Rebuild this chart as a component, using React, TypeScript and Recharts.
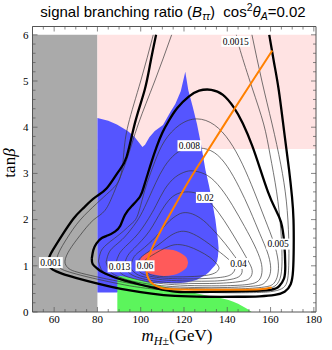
import React from "react";
import { ComposedChart, XAxis, YAxis, Area, Line, Scatter } from "recharts";

const W = 332;
const H = 350;
const FRAME = "#555";
const SERIF = "Liberation Serif, serif";

// axis ticks (major every 20 / every 1, minor every 5 / every 0.2)
const xTicks = [50, 55, 60, 65, 70, 75, 80, 85, 90, 95, 100, 105, 110, 115, 120, 125, 130, 135, 140, 145, 150, 155, 160, 165, 170, 175, 180];
const yTicks = [0, 0.2, 0.4, 0.6, 0.8, 1, 1.2, 1.4, 1.6, 1.8, 2, 2.2, 2.4, 2.6, 2.8, 3, 3.2, 3.4, 3.6, 3.8, 4, 4.2, 4.4, 4.6, 4.8, 5, 5.2, 5.4, 5.6, 5.8, 6];

// filled regions: [m_H, low, high]
const greyBand = [[50, 0, 6], [80, 0, 6]];
const pinkBand = [[80, 3.53, 6], [181, 3.53, 6]];
const blueBand = [
  [80, 0.42, 4.2], [85, 0.42, 4.14], [89, 0.42, 4.06], [94, 0.5, 3.92], [97, 0.55, 3.8], [99, 0.58, 3.68],
  [100.8, 0.6, 3.57], [102, 0.61, 3.62], [104, 0.62, 3.78], [106.5, 0.62, 3.92], [110.3, 0.63, 4.05],
  [113.7, 0.62, 4.33], [116, 0.62, 4.5], [118.5, 0.63, 4.78], [120.6, 0.64, 5.2], [122, 0.65, 4.8],
  [124, 0.67, 4.45], [126, 0.7, 4.07], [128, 0.75, 3.6], [129.9, 0.8, 3.08], [131.5, 0.86, 2.75],
  [133, 0.94, 2.4], [134.5, 1.02, 2.0], [135.3, 1.1, 1.7], [135.7, 1.2, 1.55], [136, 1.38, 1.38],
];
const greenBand = [
  [89.2, 0, 0.77], [90.5, 0, 0.78], [95, 0, 0.74], [100, 0, 0.68], [105, 0, 0.62], [110, 0, 0.56],
  [114.5, 0, 0.51], [120, 0, 0.45], [125, 0, 0.41], [129.3, 0, 0.37], [135, 0, 0.32], [140.6, 0, 0.26],
  [145, 0, 0.18], [148.3, 0, 0.09], [150.3, 0, 0.03], [151.3, 0, 0],
];
const redBand = [
  [99.5, 1.07, 1.07], [100, 0.98, 1.16], [101, 0.93, 1.21], [103, 0.86, 1.28], [106, 0.81, 1.33],
  [110.7, 0.78, 1.36], [115, 0.8, 1.34], [118, 0.85, 1.29], [120, 0.91, 1.23], [121.4, 0.98, 1.16],
  [121.9, 1.07, 1.07],
];

// thick curves
const thickOuter = [
  [107.1, 6.0], [104.5, 5.4], [101.8, 4.8], [97.5, 4.12], [93.5, 3.36], [89.7, 3.04], [84.3, 2.68],
  [78.9, 2.48], [73.5, 2.25], [68.9, 2.02], [63.5, 1.65], [59.5, 1.35], [57.3, 1.12], [58.3, 0.96],
  [61, 0.88], [64.2, 0.82], [70, 0.74], [79.7, 0.62], [87, 0.54], [95, 0.47], [105, 0.4], [115.8, 0.35],
  [130, 0.33], [145, 0.33], [155, 0.34], [162, 0.37], [166.5, 0.44], [169.3, 0.6], [170.4, 0.9],
  [170.7, 1.4], [170.6, 2.0], [169.9, 2.5], [168.5, 3.1], [166.3, 3.9], [163.8, 4.8], [161.6, 5.4], [159.4, 6.0],
];
const thickInner = [
  [77.4, 1.16], [78.1, 1.34], [79.5, 1.48], [82, 1.6], [85, 1.66], [88.1, 1.74], [90.5, 1.86], [92.7, 2.1],
  [96, 2.3], [99.7, 2.5], [101.5, 2.72], [103, 2.95], [105, 3.25], [107.4, 3.58], [110, 3.88], [113, 4.14],
  [117, 4.42], [122.2, 4.66], [127, 4.79], [132.6, 4.81], [138, 4.7], [143, 4.43], [147.2, 4.08],
  [151.5, 3.6], [155.3, 3.08], [158.8, 2.6], [162, 2.25], [164.8, 1.95], [166.3, 1.5], [166.8, 1.0],
  [166.2, 0.72], [164, 0.56], [160, 0.48], [150, 0.45], [140, 0.44], [125, 0.43], [115.8, 0.44],
  [107.4, 0.51], [100, 0.59], [95, 0.65], [90, 0.72], [85.8, 0.79], [82, 0.87], [79.7, 0.95], [77.8, 1.04], [77.4, 1.16],
];

// thin open contours
const thin1 = [
  [105.8, 6.0], [100, 5.0], [94.3, 4.07], [92.2, 3.45], [90.4, 2.9], [85.5, 2.6], [79.7, 2.35], [72, 1.99],
  [66, 1.6], [62.3, 1.3], [61.2, 1.1], [62.5, 0.96], [66, 0.88], [72, 0.8], [80, 0.71], [90, 0.61],
  [100, 0.53], [115, 0.46], [135, 0.42], [152, 0.42], [160, 0.44], [165, 0.5], [167.6, 0.65], [168.4, 1.0],
  [168.4, 1.6], [167.3, 2.4], [164.7, 3.2], [160.7, 4.07], [156, 5.0], [151.4, 6.0],
];
const thin2 = [
  [114.3, 6.0], [106.5, 5.0], [98.9, 4.07], [93.5, 3.29], [88.1, 2.64], [83.5, 2.2], [78.1, 1.99],
  [72, 1.66], [67.2, 1.35], [65, 1.1], [66.3, 0.96], [69.5, 0.88], [77, 0.79], [87, 0.69], [100, 0.58],
  [115, 0.5], [135, 0.47], [150, 0.47], [158, 0.5], [162.5, 0.58], [164.8, 0.8], [165.3, 1.2], [164.7, 1.8],
  [162.8, 2.6], [159.8, 3.4], [156.8, 4.07], [151.5, 4.85], [146, 5.66], [144.2, 6.0],
];

// thin closed contours, 0.005 .. 0.06
const c005 = [
  [80.5, 1.1], [81.5, 1.3], [84, 1.45], [88, 1.6], [92, 1.75], [95.5, 1.9], [98.2, 2.05], [100.5, 2.4],
  [103, 2.8], [106.5, 3.25], [111, 3.7], [118, 4.05], [126, 4.18], [134, 4.05], [141, 3.7], [147, 3.2],
  [152.5, 2.6], [157.5, 2.0], [161.5, 1.5], [163.5, 1.1], [163.3, 0.8], [161.5, 0.62], [157, 0.54],
  [145, 0.5], [130, 0.5], [115, 0.52], [105, 0.56], [96, 0.63], [89, 0.72], [84, 0.82], [81.5, 0.95], [80.5, 1.1],
];
const c008 = [
  [84, 1.08], [85.5, 1.3], [88.5, 1.45], [92.5, 1.62], [96.5, 1.85], [100, 2.1], [103.6, 2.45], [107, 2.8],
  [111, 3.15], [116, 3.42], [121, 3.53], [127.4, 3.55], [134, 3.45], [140, 3.15], [145.5, 2.7], [150.5, 2.2],
  [155, 1.7], [158.5, 1.3], [160, 1.0], [159.5, 0.78], [157, 0.62], [152, 0.56], [140, 0.53], [125, 0.53],
  [112, 0.56], [103, 0.61], [95, 0.68], [89, 0.78], [85.5, 0.9], [84, 1.08],
];
const c013 = [
  [88.5, 1.05], [90, 1.25], [93, 1.42], [97, 1.6], [100.5, 1.8], [103.6, 2.02], [107, 2.3], [111, 2.65],
  [116, 2.92], [121, 3.04], [125, 3.05], [131, 2.95], [137, 2.68], [142.5, 2.3], [148, 1.85], [152.5, 1.45],
  [155.5, 1.1], [156, 0.85], [154.5, 0.68], [150, 0.6], [140, 0.57], [125, 0.57], [113, 0.6], [104, 0.65],
  [97, 0.72], [92, 0.8], [89.5, 0.92], [88.5, 1.05],
];
const c02 = [
  [92.5, 1.03], [94, 1.22], [97, 1.38], [100.5, 1.55], [104, 1.75], [107, 1.98], [109.7, 2.2], [113, 2.42],
  [117, 2.56], [122, 2.6], [127, 2.55], [131, 2.42], [136, 2.15], [141, 1.8], [145.5, 1.45], [149.5, 1.12],
  [151.5, 0.9], [150.5, 0.74], [146, 0.66], [135, 0.62], [122, 0.62], [112, 0.64], [104, 0.69], [98, 0.76],
  [94.5, 0.85], [92.8, 0.95], [92.5, 1.03],
];
const c03 = [
  [95.5, 1.02], [97, 1.2], [100, 1.33], [103.5, 1.47], [107, 1.63], [110, 1.8], [113.5, 1.98], [117, 2.1],
  [120, 2.15], [124, 2.12], [129, 1.98], [134, 1.75], [139, 1.48], [143.5, 1.2], [146.5, 0.98], [146.5, 0.82],
  [143, 0.72], [134, 0.67], [122, 0.67], [112, 0.69], [105, 0.73], [100, 0.78], [97, 0.86], [95.5, 0.95], [95.5, 1.02],
];
const c04 = [
  [98, 1.0], [99.5, 1.15], [102.5, 1.27], [106, 1.38], [110, 1.52], [114, 1.66], [118, 1.74], [122, 1.73],
  [127, 1.62], [132, 1.46], [137, 1.28], [141.5, 1.1], [143.5, 0.95], [142, 0.82], [137, 0.75], [127, 0.72],
  [117, 0.72], [109, 0.74], [103, 0.79], [99.5, 0.87], [98, 1.0],
];
const c06 = [
  [100.5, 1.0], [102, 1.12], [105, 1.22], [109, 1.33], [113, 1.42], [117, 1.46], [122, 1.42], [127, 1.32],
  [132, 1.18], [135.5, 1.02], [136, 0.92], [133, 0.82], [125, 0.77], [115, 0.76], [107, 0.78], [102.5, 0.86], [100.5, 1.0],
];

const orangePath = [
  [160.8, 5.66], [150, 4.88], [139.5, 4.12], [130, 3.42], [122, 2.82], [116, 2.32], [111.5, 1.95],
  [107.5, 1.6], [104.5, 1.3], [103, 1.08], [102.7, 0.88], [103.6, 0.72], [105.8, 0.6], [109, 0.53],
  [115, 0.49], [130, 0.48], [145, 0.48], [155, 0.49], [160.5, 0.53],
];

const contourLabels = [
  { x: 58.5, y: 1.07, t: "0.001" },
  { x: 90.2, y: 0.98, t: "0.013" },
  { x: 102, y: 1.0, t: "0.06" },
  { x: 143.9, y: 5.86, t: "0.0015" },
  { x: 122.5, y: 3.6, t: "0.008" },
  { x: 129.9, y: 2.48, t: "0.02" },
  { x: 145.2, y: 1.05, t: "0.04" },
  { x: 163.5, y: 1.47, t: "0.005" },
];

const band = (rows: number[][]) => rows.map(([x, lo, hi]) => ({ x, r: [lo, hi] }));
const pts = (rows: number[][]) => rows.map(([x, y]) => ({ x, y }));

const thinLines = [thin1, thin2, c005, c008, c013, c02, c03, c04, c06];

const BottomTick = (p: any) => {
  const v = p.payload.value;
  const major = v % 20 === 0;
  return (
    <g>
      <line x1={p.x} x2={p.x} y1={p.y} y2={p.y - (major ? 5 : 3)} stroke={FRAME} strokeWidth={0.7} />
      {major && (
        <text x={p.x} y={p.y + 11} textAnchor="middle" fontFamily={SERIF} fontSize={11} fill="#000">
          {v}
        </text>
      )}
    </g>
  );
};

const TopTick = (p: any) => {
  const major = p.payload.value % 20 === 0;
  return <line x1={p.x} x2={p.x} y1={p.y} y2={p.y + (major ? 5 : 3)} stroke={FRAME} strokeWidth={0.7} />;
};

const LeftTick = (p: any) => {
  const v = p.payload.value;
  const major = Number.isInteger(v);
  return (
    <g>
      <line x1={p.x} x2={p.x + (major ? 5 : 3)} y1={p.y} y2={p.y} stroke={FRAME} strokeWidth={0.7} />
      {major && (
        <text x={p.x - 4} y={p.y + 3.8} textAnchor="end" fontFamily={SERIF} fontSize={11} fill="#000">
          {v}
        </text>
      )}
    </g>
  );
};

const RightTick = (p: any) => {
  const major = Number.isInteger(p.payload.value);
  return <line x1={p.x} x2={p.x - (major ? 5 : 3)} y1={p.y} y2={p.y} stroke={FRAME} strokeWidth={0.7} />;
};

const LabelBox = (p: any) => {
  const t: string = p.payload.t;
  const w = (t.length - 1) * 4.8 + 4.6;
  return (
    <g>
      <rect x={p.cx - w / 2} y={p.cy - 5.5} width={w} height={11} fill="#fff" />
      <text x={p.cx} y={p.cy + 3.4} textAnchor="middle" fontFamily={SERIF} fontSize={9.5} fill="#000">
        {t}
      </text>
    </g>
  );
};

export default function App() {
  const sub = { fontSize: "0.7em", verticalAlign: "-0.3em", lineHeight: 0 } as const;
  const sup = { fontSize: "0.7em", verticalAlign: "0.55em", lineHeight: 0 } as const;
  return (
    <div style={{ position: "absolute", left: 0, top: 0, width: W, height: H, background: "#fff" }}>
      <ComposedChart width={W} height={H} margin={{ top: 0, right: 0, bottom: 0, left: 0 }}>
        <XAxis
          type="number"
          dataKey="x"
          domain={[50, 181]}
          ticks={xTicks}
          interval={0}
          height={38}
          tickSize={0}
          tickMargin={0}
          tickLine={false}
          axisLine={{ stroke: FRAME }}
          tick={(p: any) => <BottomTick {...p} />}
          allowDataOverflow
        />
        <XAxis
          xAxisId="top"
          orientation="top"
          type="number"
          dataKey="x"
          domain={[50, 181]}
          ticks={xTicks}
          interval={0}
          height={26.5}
          tickSize={0}
          tickMargin={0}
          tickLine={false}
          axisLine={{ stroke: FRAME }}
          tick={(p: any) => <TopTick {...p} />}
          allowDataOverflow
        />
        <YAxis
          type="number"
          domain={[0, 6.18]}
          ticks={yTicks}
          interval={0}
          width={32.5}
          tickSize={0}
          tickMargin={0}
          tickLine={false}
          axisLine={{ stroke: FRAME }}
          tick={(p: any) => <LeftTick {...p} />}
          allowDataOverflow
        />
        <YAxis
          yAxisId="right"
          orientation="right"
          type="number"
          domain={[0, 6.18]}
          ticks={yTicks}
          interval={0}
          width={16}
          tickSize={0}
          tickMargin={0}
          tickLine={false}
          axisLine={{ stroke: FRAME }}
          tick={(p: any) => <RightTick {...p} />}
          allowDataOverflow
        />

        <Area data={band(greyBand)} dataKey="r" type="linear" fill="#aaaaaa" fillOpacity={1} stroke="none" isAnimationActive={false} activeDot={false} />
        <Area data={band(pinkBand)} dataKey="r" type="linear" fill="#ffe3e3" fillOpacity={1} stroke="none" isAnimationActive={false} activeDot={false} />
        <Area data={band(blueBand)} dataKey="r" type="linear" fill="#5555ff" fillOpacity={1} stroke="none" isAnimationActive={false} activeDot={false} />
        <Area data={band(greenBand)} dataKey="r" type="monotone" fill="#5cf55c" fillOpacity={1} stroke="none" isAnimationActive={false} activeDot={false} />
        <Area data={band(redBand)} dataKey="r" type="monotone" fill="#ff5a5a" fillOpacity={1} stroke="none" isAnimationActive={false} activeDot={false} />

        {thinLines.map((c, i) => (
          <Line key={`thin-${i}`} data={pts(c)} dataKey="y" type="natural" stroke="#3a3a3a" strokeWidth={0.7} dot={false} activeDot={false} isAnimationActive={false} />
        ))}
        <Line data={pts(thickOuter)} dataKey="y" type="natural" stroke="#000" strokeWidth={2.3} dot={false} activeDot={false} isAnimationActive={false} />
        <Line data={pts(thickInner)} dataKey="y" type="natural" stroke="#000" strokeWidth={2.3} dot={false} activeDot={false} isAnimationActive={false} />
        <Line data={pts(orangePath)} dataKey="y" type="natural" stroke="#ff8000" strokeWidth={2} dot={false} activeDot={false} isAnimationActive={false} />

        <Scatter data={contourLabels} dataKey="y" shape={(p: any) => <LabelBox {...p} />} isAnimationActive={false} />
      </ComposedChart>

      <div
        style={{
          position: "absolute", top: 2, left: 23, width: 300, textAlign: "center",
          fontFamily: "Liberation Sans, sans-serif", fontSize: 15, lineHeight: "20px", whiteSpace: "nowrap",
        }}
      >
        signal branching ratio (<i>B</i><span style={sub}><i>ττ</i></span>)&nbsp;&nbsp;cos<span style={sup}>2</span><i>θ</i><span style={sub}><i>A</i></span>=0.02
      </div>
      <div
        style={{
          position: "absolute", top: 326, left: 97, width: 160, textAlign: "center",
          fontFamily: SERIF, fontSize: 17, lineHeight: "20px", whiteSpace: "nowrap",
        }}
      >
        <i>m</i><span style={sub}><i>H</i>±</span>(GeV)
      </div>
      <div
        style={{
          position: "absolute", top: 153, left: -30, width: 80, height: 20, textAlign: "center",
          fontFamily: SERIF, fontSize: 17, lineHeight: "20px", whiteSpace: "nowrap",
          transform: "rotate(-90deg)",
        }}
      >
        tan<i>β</i>
      </div>
    </div>
  );
}
